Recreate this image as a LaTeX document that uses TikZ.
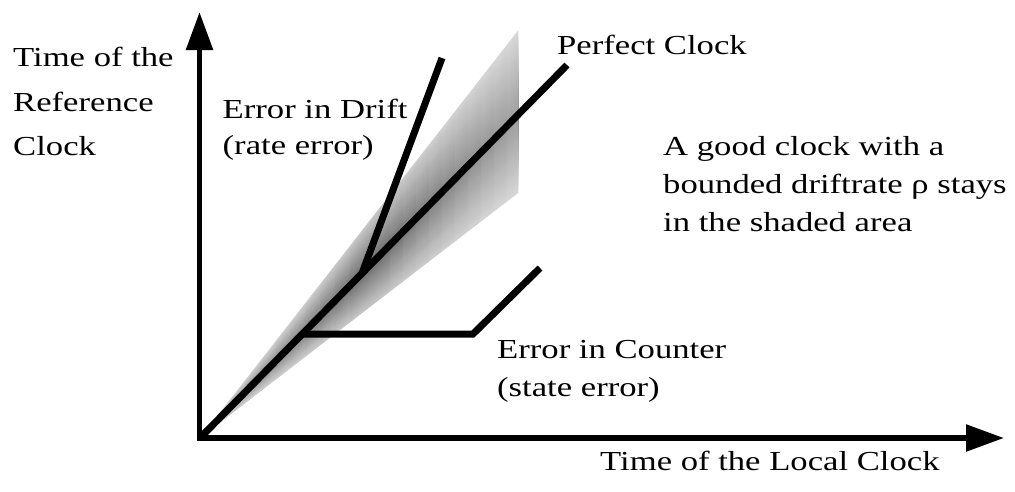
\documentclass[tikz,border=0pt]{standalone}
\usepackage{fontspec}
\setmainfont{Liberation Serif}[FakeStretch=1.26]
\usetikzlibrary{arrows.meta}
\begin{document}
\begin{tikzpicture}[x=1pt,y=-1pt,
  axis/.style={line width=5.5pt,-{Triangle[length=38pt,width=26pt]}},
  clockline/.style={line width=7pt},
  lbl/.style={anchor=base west,inner sep=0pt,font=\fontsize{27.5}{33}\selectfont}]
\useasboundingbox (0,0) rectangle (1015,491);
\coordinate (O) at (200,438);
\coordinate (ytip) at (199.5,12);
\coordinate (xtip) at (1004,438);
\coordinate (P) at (567,65);
\coordinate (J) at (362,273.4);
\coordinate (D) at (442,58);
\coordinate (C0) at (302,334);
\coordinate (C1) at (473,334);
\coordinate (C2) at (540,268);
\coordinate (ST) at (518,28);
\coordinate (SB) at (518,193);
% shaded area: darkest along the perfect clock, fading towards its edges
\begin{scope}
  \clip (O) -- (ST) -- (SB) -- cycle;
  \foreach \k in {0,...,24}{
    \pgfmathsetmacro\yt{115-87*(1-\k/24)}
    \pgfmathsetmacro\yb{115+78*(1-\k/24)}
    \pgfmathsetmacro\sh{22+36*\k/24}
    \fill[black!\sh] (O) -- (520,\yt) -- (520,\yb) -- cycle;
  }
  \foreach \k in {1,...,10}{
    \pgfmathsetmacro\xr{520-13*\k}
    \pgfmathsetmacro\xl{200+15*\k}
    \fill[white,opacity=0.045] (\xr,0) rectangle (520,440);
    \fill[white,opacity=0.045] (195,0) rectangle (\xl,440);
  }
\end{scope}
% axes
\draw[axis] (199.5,440.75) -- (ytip);
\draw[axis] (196.75,438) -- (xtip);
% clock lines
\draw[clockline] (O) -- (P);
\draw[clockline] (J) -- (D);
\draw[clockline] (C0) -- (C1) -- (C2);
% labels
\node[lbl] (yl1) at (13,66.7) {Time of the};
\node[lbl] (yl2) at (13,111) {Reference};
\node[lbl] (yl3) at (13,155) {Clock};
\node[lbl] (pc) at (557,54) {Perfect Clock};
\node[lbl] (dr1) at (222.5,118.3) {Error in Drift};
\node[lbl] (dr2) at (222.5,154) {(rate error)};
\node[lbl] (g1) at (663,155) {A good clock with a};
\node[lbl] (g2) at (663,193.3) {bounded driftrate ρ stays};
\node[lbl] (g3) at (663,231.7) {in the shaded area};
\node[lbl] (ec1) at (497,358) {Error in Counter};
\node[lbl] (ec2) at (497,396) {(state error)};
\node[lbl] (xl) at (600,470) {Time of the Local Clock};
\end{tikzpicture}
\end{document}
